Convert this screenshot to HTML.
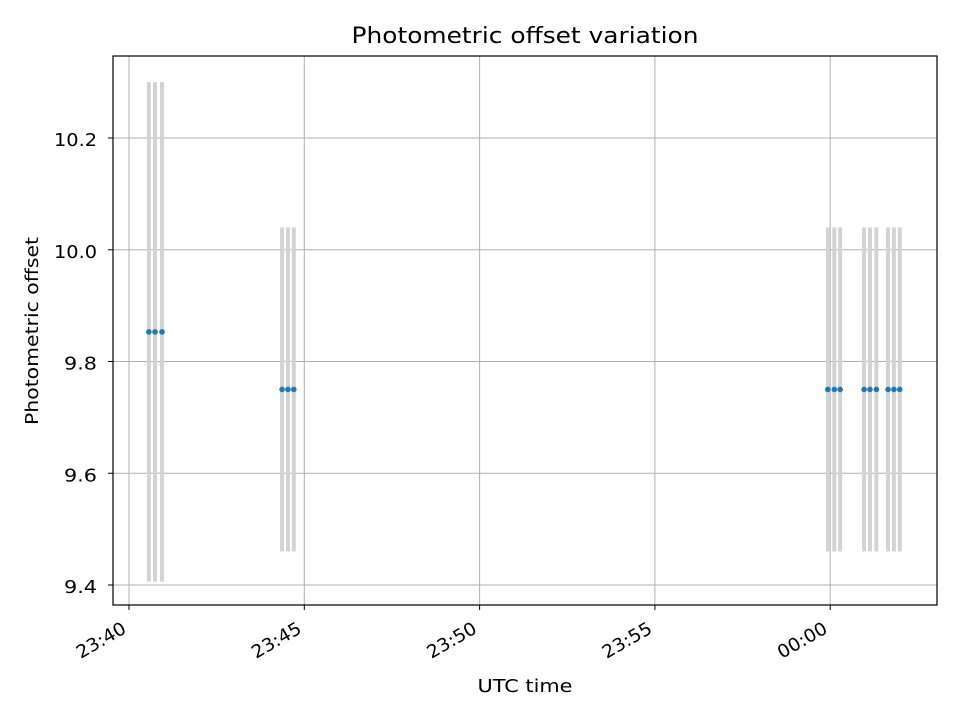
<!DOCTYPE html>
<html><head><meta charset="utf-8"><style>
body{margin:0;background:#fff}
svg{display:block;font-family:"DejaVu Sans","Liberation Sans",sans-serif}
</style></head><body>
<svg id="chart" width="960" height="720" viewBox="0 0 960 720">
<rect width="960" height="720" fill="#fff"/>
<g id="grid"></g>
<g id="bars"></g>
<g id="pts"></g>
<rect x="113" y="56" width="824" height="549" fill="none" stroke="#000" stroke-width="1.2"/>
<g id="ticks"></g>
<text x="525" y="43" font-size="22" text-anchor="middle" textLength="347" lengthAdjust="spacingAndGlyphs">Photometric offset variation</text>
<text x="525" y="692" font-size="18" text-anchor="middle" textLength="95" lengthAdjust="spacingAndGlyphs">UTC time</text>
<text x="0" y="0" font-size="18" text-anchor="middle" textLength="188" lengthAdjust="spacingAndGlyphs" transform="translate(38,331) rotate(-90)">Photometric offset</text>
</svg>
<script>
// time in seconds after 23:40:00
const times=[34,44.5,56.5,262,272,282,1196,1207,1217,1258,1268,1279,1299,1309,1319];
const offsets=[9.853,9.853,9.853,9.75,9.75,9.75,9.75,9.75,9.75,9.75,9.75,9.75,9.75,9.75,9.75];
const errors=[0.447,0.447,0.447,0.29,0.29,0.29,0.29,0.29,0.29,0.29,0.29,0.29,0.29,0.29,0.29];
const xTickLabels=["23:40","23:45","23:50","23:55","00:00"];
const xTickSecs=[0,300,600,900,1200];
const yTicks=[9.4,9.6,9.8,10.0,10.2];
const NS="http://www.w3.org/2000/svg";
function x(s){return 129+s*(175.3/300);}
function y(v){return 585-(v-9.4)*(447/0.8);}
function mk(t,a,p){const e=document.createElementNS(NS,t);for(const k in a)e.setAttribute(k,a[k]);p.appendChild(e);return e;}
const G=document.getElementById('grid'),B=document.getElementById('bars'),P=document.getElementById('pts'),T=document.getElementById('ticks');
xTickSecs.forEach((s,i)=>{const X=x(s);
 const g=mk('line',{x1:X,x2:X,y1:56,y2:605,stroke:'#b0b0b0','stroke-width':1},G);
 
 
 const t=mk('line',{x1:X,x2:X,y1:605,y2:610,stroke:'#000'},T);
 
 
 const l=mk('text',{x:0,y:0,'font-size':18,'text-anchor':'end',textLength:54,lengthAdjust:'spacingAndGlyphs',transform:`translate(${X-1.5},632) rotate(-30)`},T);
 l.textContent=xTickLabels[i];
 
 
});
yTicks.forEach(v=>{const Y=y(v);
 const g=mk('line',{x1:113,x2:937,y1:Y,y2:Y,stroke:'#b0b0b0','stroke-width':1},G);
 
 
 const t=mk('line',{x1:108,x2:113,y1:Y,y2:Y,stroke:'#000'},T);
 
 
 const lab=v.toFixed(1);
 const l=mk('text',{x:97,y:Y+8,'font-size':18,'text-anchor':'end',textLength:lab.length===4?43:33,lengthAdjust:'spacingAndGlyphs'},T);
 l.textContent=lab;
 
 
});
times.forEach((s,i)=>{const X=x(s);
 const b=mk('line',{x1:X,x2:X,y1:y(offsets[i]+errors[i]),y2:y(offsets[i]-errors[i]),stroke:'#d3d3d3','stroke-width':4},B);
 
 
 const c=mk('circle',{cx:X,cy:y(offsets[i]),r:2.8,fill:'#1f77b4'},P);
 
 
});
</script>
</body></html>
